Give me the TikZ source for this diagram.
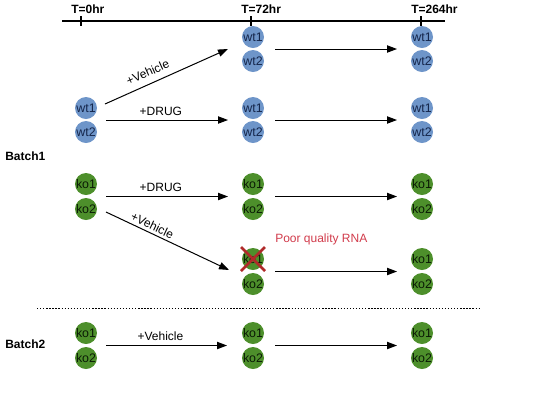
\documentclass[tikz,border=0pt]{standalone}
\usepackage{fontspec}
\setmainfont{Liberation Sans}
\usetikzlibrary{arrows.meta}
\definecolor{wtfill}{HTML}{6E95C9}
\definecolor{kofill}{HTML}{4D8F2B}
\definecolor{wttext}{HTML}{14254A}
\definecolor{kotext}{HTML}{0A1A05}
\definecolor{poorred}{HTML}{D13B4B}
\definecolor{xred}{HTML}{B02A2A}
\begin{document}
\begin{tikzpicture}[x=0.75pt,y=-0.75pt,
  wt/.style={circle,fill=wtfill,minimum size=16.5pt,inner sep=0pt,text=wttext,font=\fontsize{9.3}{10}\selectfont},
  ko/.style={circle,fill=kofill,minimum size=16.5pt,inner sep=0pt,text=kotext,font=\fontsize{9.3}{10}\selectfont},
  arr/.style={line width=0.75pt,-{Triangle[length=7.5pt,width=5.5pt]}},
  lbl/.style={font=\fontsize{9}{10}\selectfont,inner sep=1pt},
  tl/.style={font=\bfseries\fontsize{9}{10}\selectfont,inner sep=0pt,anchor=west},
  batch/.style={font=\bfseries\fontsize{9}{10}\selectfont,inner sep=0pt,anchor=west}]
\useasboundingbox (0,0) rectangle (540,405);
% timeline
\coordinate (tlS) at (62,21);
\coordinate (tlE) at (445,21);
\draw[line width=1.5pt] (tlS) -- (tlE);
\foreach \x/\t [count=\i] in {81/T=0hr,251/T=72hr,421/T=264hr}{
  \coordinate (tk\i) at (\x,21);
  \draw[line width=1.2pt] ([shift={(0,-5)}]tk\i) -- ([shift={(0,5)}]tk\i);
  \node[tl] (tlab\i) at (\x-10,9) {\t};
}
% pair midpoints
\foreach \n/\x/\y in {A1/253/49, A2/422/49, B0/86/120, B1/253/120, B2/422/120,
  C0/86/196.5, C1/253/196.5, C2/422/196.5, D1/253/271.5, D2/422/271.5,
  E0/86/345.5, E1/253/345.5, E2/422/345.5}{
  \coordinate (\n) at (\x,\y);
}
% wt circles
\foreach \n in {A1,A2,B0,B1,B2}{
  \node[wt] (\n a) at ([shift={(0,-12)}]\n) {wt1};
  \node[wt] (\n b) at ([shift={(0,12)}]\n) {wt2};
}
% ko circles
\foreach \n in {C0,C1,C2,D1,D2,E0,E1,E2}{
  \node[ko] (\n a) at ([shift={(0,-12.5)}]\n) {ko1};
  \node[ko] (\n b) at ([shift={(0,12.5)}]\n) {ko2};
}
% arrows 72 -> 264
\foreach \r in {A,B,C,D,E}{
  \draw[arr] ([shift={(22,0)}]\r1) -- ([shift={(-25,0)}]\r2);
}
% arrows 0 -> 72
\draw[arr] ([shift={(20,0)}]B0) -- node[lbl,pos=0.45,above=2pt]{+DRUG} ([shift={(-25,0)}]B1);
\draw[arr] ([shift={(20,0)}]C0) -- node[lbl,pos=0.45,above=2pt]{+DRUG} ([shift={(-25,0)}]C1);
\draw[arr] ([shift={(20,0)}]E0) -- node[lbl,pos=0.45,above=2pt]{+Vehicle} ([shift={(-26,0)}]E1);
\draw[arr] ([shift={(19,-4)}]B0a.center) -- node[lbl,pos=0.385,above=4pt,sloped]{+Vehicle} ([shift={(-25,0)}]A1);
\draw[arr] ([shift={(20,3)}]C0b.center) -- node[lbl,pos=0.35,above=1pt,sloped]{+Vehicle} ([shift={(-24,-1.5)}]D1);
% poor quality
\node[font=\fontsize{9}{10}\selectfont,text=poorred,anchor=west,inner sep=0pt] (poor) at (275,239) {Poor quality RNA};
\draw[xred,line width=2pt] ([shift={(-12,-12)}]D1a.center) -- ([shift={(12,12)}]D1a.center);
\draw[xred,line width=2pt] ([shift={(-12,12)}]D1a.center) -- ([shift={(12,-12)}]D1a.center);
% batches
\node[batch] (b1) at (5,156) {Batch1};
\node[batch] (b2) at (5,344) {Batch2};
\coordinate (dS) at (37,308);
\coordinate (dE) at (480,308);
\draw[line width=0.75pt,dash pattern=on 1pt off 1.3pt] (dS) -- (dE);
\end{tikzpicture}
\end{document}
